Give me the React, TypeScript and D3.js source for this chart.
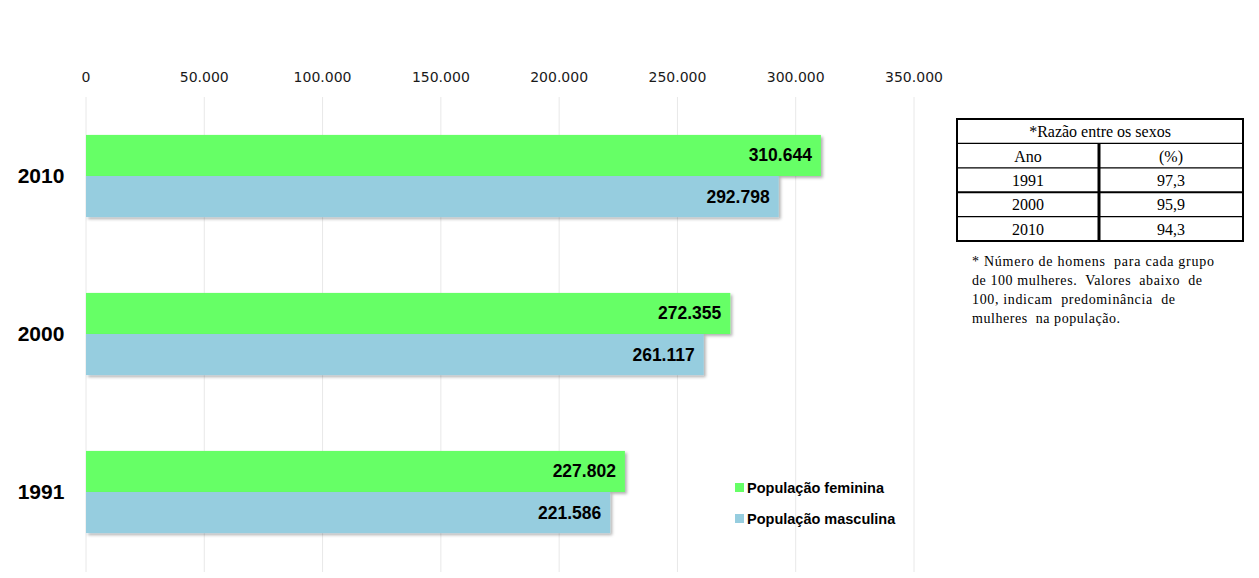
import React from 'react';
import * as d3 from 'd3';

// Data
const years = ['2010', '2000', '1991'];
const series = ['População feminina', 'População masculina'];
const feminina = [310644, 272355, 227802];
const masculina = [292798, 261117, 221586];
const xTicks = [0, 50000, 100000, 150000, 200000, 250000, 300000, 350000];

const tableTitle = '*Razão entre os sexos';
const tableHeader = ['Ano', '(%)'];
const tableYears = ['1991', '2000', '2010'];
const tableRatios = ['97,3', '95,9', '94,3'];
const noteLines = [
  '* Número de homens  para cada grupo',
  'de 100 mulheres.  Valores  abaixo  de',
  '100, indicam  predominância  de',
  'mulheres  na população.',
];

const colors = ['#66ff66', '#96cddf'];
const fmt = (v: number) => d3.format(',')(v).replace(/,/g, '.');

const App: React.FC = () => {
  const width = 1259;
  const height = 578;
  const plot = { left: 86, right: 914, top: 97, bottom: 571 };

  const x = d3.scaleLinear().domain([0, 350000]).range([plot.left, plot.right]);
  const y = d3
    .scaleBand<string>()
    .domain(years)
    .range([plot.top, plot.bottom])
    .paddingInner(0.48)
    .paddingOuter(0.24);
  const ySub = d3.scaleBand<number>().domain([0, 1]).range([0, y.bandwidth()]);

  const values = [feminina, masculina];

  // table geometry
  const tx = 957;
  const tw = 286;
  const ty = 119;
  const rowH = 24.4;
  const colSplit = 1099;
  const nRows = 2 + tableYears.length;
  const noteWidths = [242, 230, 203, 148];

  return (
    <svg
      width={width}
      height={height}
      style={{ position: 'absolute', left: 0, top: 0, background: '#fff' }}
    >
      <defs>
        <filter id="shadow" x="-5%" y="-20%" width="115%" height="150%">
          <feDropShadow dx="2" dy="2" stdDeviation="1.5" floodColor="#000" floodOpacity="0.3" />
        </filter>
      </defs>

      {/* Grid lines and tick labels */}
      {xTicks.map((t) => (
        <g key={t}>
          <line
            x1={x(t)}
            x2={x(t)}
            y1={plot.top}
            y2={plot.bottom + 1}
            stroke="#e8e8e8"
            strokeWidth={1}
          />
          <text
            x={x(t)}
            y={82}
            textAnchor="middle"
            fontFamily="DejaVu Sans, sans-serif"
            fontSize={14}
            fill="#1a1a1a"
          >
            {fmt(t)}
          </text>
        </g>
      ))}

      {/* Bars */}
      {years.map((yr, i) => (
        <g key={yr}>
          {values.map((vals, s) => {
            const by = (y(yr) as number) + (ySub(s) as number);
            const bh = ySub.bandwidth();
            return (
              <g key={s}>
                <rect
                  x={x(0)}
                  y={by}
                  width={x(vals[i]) - x(0)}
                  height={bh}
                  fill={colors[s]}
                  filter="url(#shadow)"
                />
                <text
                  x={x(vals[i]) - 9}
                  y={by + bh / 2 + 6}
                  textAnchor="end"
                  fontFamily="Liberation Sans, Arial, sans-serif"
                  fontWeight="bold"
                  fontSize={17.5}
                  fill="#000"
                >
                  {fmt(vals[i])}
                </text>
              </g>
            );
          })}
          <text
            x={41}
            y={(y(yr) as number) + y.bandwidth() / 2 + 7}
            textAnchor="middle"
            fontFamily="Liberation Sans, Arial, sans-serif"
            fontWeight="bold"
            fontSize={21}
            fill="#000"
          >
            {yr}
          </text>
        </g>
      ))}

      {/* Legend */}
      {series.map((name, s) => (
        <g key={name} transform={`translate(735, ${488 + s * 31})`}>
          <rect x={0} y={-5} width={9} height={9} fill={colors[s]} />
          <text
            x={12}
            y={5}
            fontFamily="Liberation Sans, Arial, sans-serif"
            fontWeight="bold"
            fontSize={14.5}
            fill="#000"
          >
            {name}
          </text>
        </g>
      ))}

      {/* Ratio table */}
      <g fontFamily="Liberation Serif, Times New Roman, serif" fontSize={16} fill="#000">
        <rect x={tx} y={ty} width={tw} height={rowH * nRows} fill="#fff" stroke="#000" strokeWidth={2} />
        {d3.range(1, nRows).map((r) => (
          <line
            key={r}
            x1={tx}
            x2={tx + tw}
            y1={ty + r * rowH}
            y2={ty + r * rowH}
            stroke="#000"
            strokeWidth={r === 3 ? 2 : 1.2}
          />
        ))}
        <line x1={colSplit} x2={colSplit} y1={ty + rowH} y2={ty + rowH * nRows} stroke="#000" strokeWidth={3} />
        <text x={tx + tw / 2} y={ty + rowH / 2 + 6} textAnchor="middle">
          {tableTitle}
        </text>
        {[tableHeader, ...tableYears.map((yr, i) => [yr, tableRatios[i]])].map((row, r) => (
          <g key={r}>
            <text x={(tx + colSplit) / 2} y={ty + (r + 1.5) * rowH + 6} textAnchor="middle">
              {row[0]}
            </text>
            <text x={(colSplit + tx + tw) / 2} y={ty + (r + 1.5) * rowH + 6} textAnchor="middle">
              {row[1]}
            </text>
          </g>
        ))}
      </g>

      {/* Note */}
      <g fontFamily="Liberation Serif, Times New Roman, serif" fontSize={14} fill="#000">
        {noteLines.map((line, i) => (
          <text
            key={i}
            x={972}
            y={266 + i * 19}
            textLength={noteWidths[i]}
            lengthAdjust="spacing"
            style={{ whiteSpace: 'pre' }}
          >
            {line}
          </text>
        ))}
      </g>
    </svg>
  );
};

export default App;
